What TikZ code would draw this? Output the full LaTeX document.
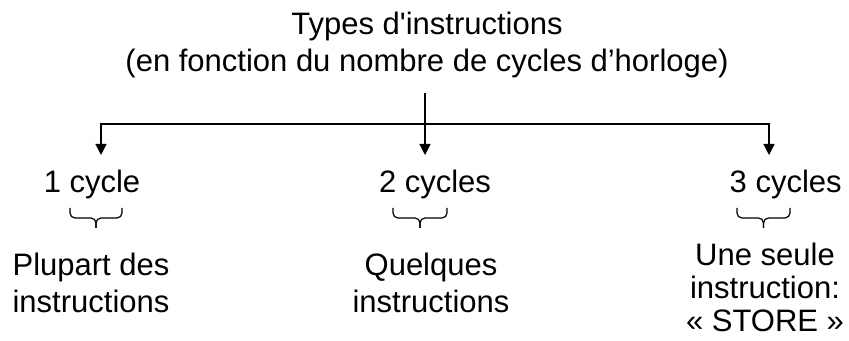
\documentclass[tikz,border=0pt]{standalone}
\usepackage{fontspec}
\setmainfont{Liberation Sans}
\usetikzlibrary{arrows.meta}

\begin{document}
\begin{tikzpicture}[x=0.5pt,y=-0.5pt,
	every node/.style={font=\fontsize{15.5}{18.5}\selectfont, inner sep=0pt, align=center},
	fleche/.style={-{Triangle[length=5.5pt,width=5.5pt]}, line width=0.6pt},
	accolade/.style={rounded corners=2.5pt, line width=0.6pt}]
	\useasboundingbox (0,0) rectangle (849,341);
	% titre
	\node [anchor=base] (titre) at (427,72) {Types d\textquotesingle instructions\\(en fonction du nombre de cycles d’horloge)};
	\coordinate (haut) at (425,93);
	\coordinate (jonction) at (425,124);
	\draw [line width=0.6pt] (haut) -- (jonction);
	\foreach \i/\fx/\cx/\ax/\bx/\cycles in
	{
		1/101/92/70/122/1 cycle,
		2/425/435/393/447/2 cycles,
		3/769/790/737/790/3 cycles
	}
	{
		\coordinate (f\i) at (\fx,155);
		\draw [fleche] (jonction) -| (f\i);
		\node [anchor=base] (c\i) at (\cx,193) {\cycles};
		% accolade sous le nombre de cycles
		\coordinate (a\i) at (\ax,208);
		\coordinate (b\i) at (\bx,208);
		\coordinate (p\i) at ({(\ax+\bx)/2},228);
		\draw [accolade] (a\i) |- ({(\ax+\bx)/2},218) -- (p\i);
		\draw [accolade] (b\i) |- ({(\ax+\bx)/2},218) -- (p\i);
	}
	% descriptions
	\node [anchor=base] (d1) at (91,312) {Plupart des\\instructions};
	\node [anchor=base] (d2) at (431,312) {Quelques\\instructions};
	\node [anchor=base, font=\fontsize{15.5}{16.5}\selectfont] (d3) at (765,331) {Une seule\\instruction:\\« STORE »};
\end{tikzpicture}
\end{document}
